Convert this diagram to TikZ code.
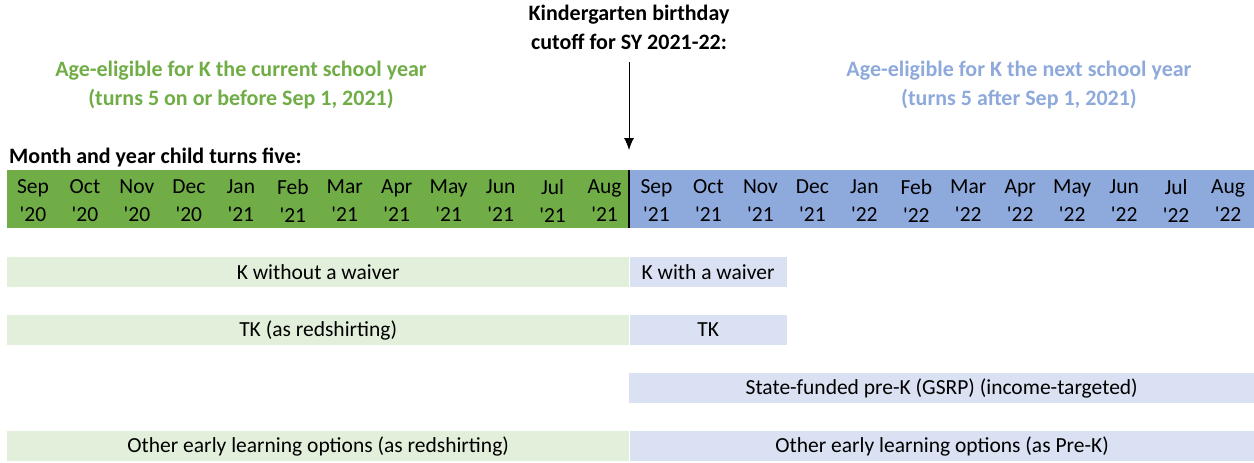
\documentclass[tikz,border=0pt]{standalone}
\usepackage{fontspec}
\setmainfont{Carlito}
\usetikzlibrary{arrows.meta,positioning}

\definecolor{kgreen}{HTML}{70AD47}
\definecolor{kblue}{HTML}{8EA9DB}
\definecolor{lgreen}{HTML}{E2EFDA}
\definecolor{lblue}{HTML}{D9E1F2}

\begin{document}
\begin{tikzpicture}[x=1pt, y=-1pt,
    lbl/.style={font=\fontsize{21.5}{28}\selectfont, inner sep=0pt, align=center},
    head/.style={lbl, font=\fontsize{22}{29}\selectfont\bfseries},
    yearbox/.style={inner sep=0pt, minimum width=622pt, minimum height=58pt, anchor=north west},
    bar/.style={lbl, minimum height=30pt, anchor=west},
    >={Latex[length=12pt,width=10pt]}]

  \useasboundingbox (0,0) rectangle (1254,463);

  % headings
  \node[head] (cut) at (629,27) {Kindergarten birthday\\cutoff for SY 2021-22:};
  \node[head, text=kgreen] (cur) at (241,85) {Age-eligible for K the current school year\\(turns 5 on or before Sep 1, 2021)};
  \node[head, text=kblue] (nxt) at (1019,85) {Age-eligible for K the next school year\\(turns 5 after Sep 1, 2021)};
  \node[head, anchor=west] (turns) at (9,157) {Month and year child turns five:};

  % month strip
  \node[yearbox, fill=kgreen] (ycur) at (7,170) {};
  \node[yearbox, fill=kblue, minimum width=625pt] (ynxt) at (ycur.north east) {};
  \foreach \m/\yr [count=\i from 0] in {Sep/20,Oct/20,Nov/20,Dec/20,Jan/21,Feb/21,Mar/21,Apr/21,
      May/21,Jun/21,Jul/21,Aug/21,Sep/21,Oct/21,Nov/21,Dec/21,Jan/22,Feb/22,Mar/22,Apr/22,
      May/22,Jun/22,Jul/22,Aug/22}
    \node[lbl] (m\i) at ({7+51.96*(\i+0.5)},201) {\m\\\textquotesingle\yr};
  \draw[line width=2pt] (ycur.north east) -- (ycur.south east);

  \coordinate (tip) at (629,150);
  \draw[->, line width=0.9pt] ([yshift=-13pt]cut.south) -- (tip);

  % options
  \node[bar, fill=lgreen, minimum width=622pt] (kno) at (7,272) {K without a waiver};
  \node[bar, fill=lblue, minimum width=157pt, right=0pt of kno] (kwai) {K with a waiver};
  \node[bar, fill=lgreen, minimum width=622pt] (tkred) at (7,330) {TK (as redshirting)};
  \node[bar, fill=lblue, minimum width=157pt, right=0pt of tkred] (tk) {TK};
  \node[bar, fill=lblue, minimum width=625pt] (gsrp) at (629,388) {State-funded pre-K (GSRP) (income-targeted)};
  \node[bar, fill=lgreen, minimum width=622pt] (oelred) at (7,446) {Other early learning options (as redshirting)};
  \node[bar, fill=lblue, minimum width=625pt, right=0pt of oelred] (oelpre) {Other early learning options (as Pre-K)};
\end{tikzpicture}
\end{document}
